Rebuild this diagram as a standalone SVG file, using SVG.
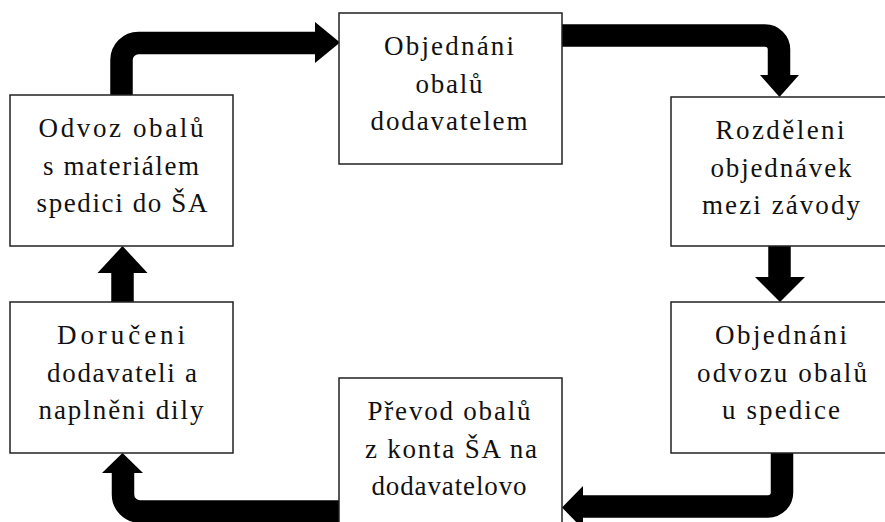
<svg xmlns="http://www.w3.org/2000/svg" width="885" height="522" viewBox="0 0 885 522">
<style>
.box{fill:#fff;stroke:#222;stroke-width:1.5}
.lbl{font-family:"Liberation Serif","Times New Roman",serif;font-size:27px;fill:#111;text-anchor:middle}
.shaft{fill:none;stroke:#000;stroke-width:22.5;stroke-linejoin:round}
.head{fill:#000}
</style>
<rect width="885" height="522" fill="#fff"/>
<g id="connectors">
  <path class="shaft" d="M121.5,96 V60 A17,17 0 0 1 138.5,43 H317"/>
  <polygon class="head" points="315,22 340,42.5 315,63"/>
  <path class="shaft" d="M561,35.5 H765 A14,14 0 0 1 779,49.5 V77"/>
  <polygon class="head" points="760,75 799,75 779.5,97"/>
  <path class="shaft" d="M779.5,246 V279"/>
  <polygon class="head" points="755,277 805,277 780,302"/>
  <path class="shaft" d="M782,453 V492.5 A14,14 0 0 1 768,506.5 H581"/>
  <polygon class="head" points="583,486 562,507.5 583,529"/>
  <path class="shaft" d="M340,511.5 H140 A17,17 0 0 1 123,494.5 V471"/>
  <polygon class="head" points="102,473 143,473 122.5,453"/>
  <path class="shaft" d="M122.5,302 V271"/>
  <polygon class="head" points="97.5,273 147.5,273 122.5,246"/>
</g>
<g id="node-odvoz">
  <rect class="box" x="10" y="95" width="223" height="151"/>
  <text class="lbl" x="121" y="137" textLength="165">Odvoz obalů</text>
  <text class="lbl" x="121" y="175" textLength="156">s materiálem</text>
  <text class="lbl" x="122" y="212" textLength="171">spedici do ŠA</text>
</g>
<g id="node-objednani-obalu">
  <rect class="box" x="339" y="13" width="223" height="151"/>
  <text class="lbl" x="449" y="55" textLength="130">Objednáni</text>
  <text class="lbl" x="449" y="93" textLength="67">obalů</text>
  <text class="lbl" x="449" y="130" textLength="157">dodavatelem</text>
</g>
<g id="node-rozdeleni">
  <rect class="box" x="671" y="97" width="220" height="149"/>
  <text class="lbl" x="780" y="139" textLength="129">Rozděleni</text>
  <text class="lbl" x="781" y="177" textLength="141">objednávek</text>
  <text class="lbl" x="781" y="214" textLength="158">mezi závody</text>
</g>
<g id="node-objednani-odvozu">
  <rect class="box" x="671" y="302" width="220" height="151"/>
  <text class="lbl" x="781" y="344" textLength="132">Objednáni</text>
  <text class="lbl" x="782" y="382" textLength="170">odvozu obalů</text>
  <text class="lbl" x="781" y="419" textLength="118">u spedice</text>
</g>
<g id="node-prevod">
  <rect class="box" x="339" y="378" width="223" height="160"/>
  <text class="lbl" x="449" y="420" textLength="163">Převod obalů</text>
  <text class="lbl" x="451" y="458" textLength="172">z konta ŠA na</text>
  <text class="lbl" x="449" y="495" textLength="155">dodavatelovo</text>
</g>
<g id="node-doruceni">
  <rect class="box" x="10" y="302" width="223" height="151"/>
  <text class="lbl" x="121" y="344" textLength="128">Doručeni</text>
  <text class="lbl" x="122" y="382" textLength="150">dodavateli a</text>
  <text class="lbl" x="121" y="419" textLength="165">naplněni dily</text>
</g>
</svg>
